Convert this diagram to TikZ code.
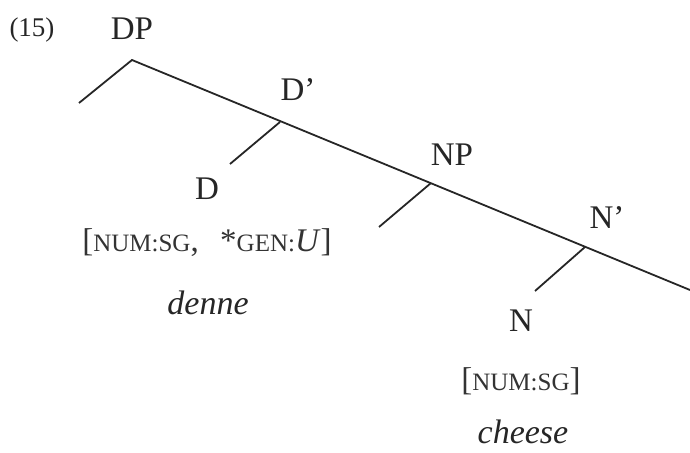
\documentclass[tikz,border=0pt]{standalone}
\usepackage{fontspec}
\setmainfont{Liberation Serif}
\newcommand{\featcaps}[1]{{\fontsize{25}{30}\selectfont #1}}
\begin{document}
\begin{tikzpicture}[x=1pt,y=-1pt,
  branch/.style={line width=1.8pt,color=black!85},
  cat/.style={inner sep=0pt,font=\fontsize{33}{38}\selectfont,text=black!85},
  feat/.style={inner sep=0pt,font=\fontsize{33}{38}\selectfont,text=black!80},
  word/.style={inner sep=0pt,font=\fontsize{34}{40}\selectfont\itshape,text=black!85},
  exno/.style={inner sep=0pt,font=\fontsize{27}{32}\selectfont,text=black!85}]
\useasboundingbox (0,0) rectangle (690,452);

% tree skeleton
\coordinate (dp)  at (132,60);
\coordinate (dpl) at (79,103);
\coordinate (db)  at (280,122);
\coordinate (dbl) at (230,164);
\coordinate (np)  at (431,183);
\coordinate (npl) at (379,227);
\coordinate (nb)  at (585,247);
\coordinate (nbl) at (535,291);
\coordinate (end) at (690,290);

\draw[branch] (dpl) -- (dp) -- (end);
\draw[branch] (db) -- (dbl);
\draw[branch] (np) -- (npl);
\draw[branch] (nb) -- (nbl);

% labels
\node[exno] (ex)  at (32,30)  {(15)};
\node[cat]  (lDP) at (132,29) {DP};
\node[cat]  (lDb) at (298,90) {D’};
\node[cat]  (lNP) at (452,155){NP};
\node[cat]  (lNb) at (607,218){N’};
\node[cat]  (lD)  at (207,189){D};
\node[feat] (fD)  at (207,243){[\featcaps{NUM:SG}, \hspace{0.4em}*\featcaps{GEN:}\textit{U}]};
\node[word] (wD)  at (208,303){denne};
\node[cat]  (lN)  at (521,321){N};
\node[feat] (fN)  at (521,381){[\featcaps{NUM:SG}]};
\node[word] (wN)  at (523,432){cheese};
\end{tikzpicture}
\end{document}
